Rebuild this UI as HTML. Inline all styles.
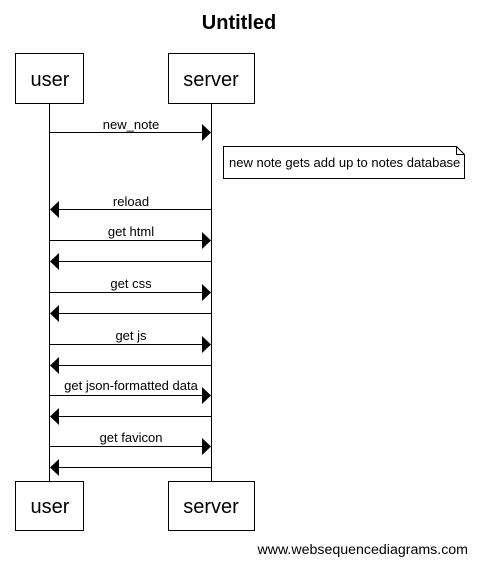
<!DOCTYPE html>
<html><head><style>body{margin:0;background:#fff}</style></head><body>
<svg width="477" height="564" xmlns="http://www.w3.org/2000/svg" font-family="Liberation Sans, sans-serif">
<rect width="477" height="564" fill="#fff"/>
<text x="239" y="29" font-size="20" font-weight="bold" text-anchor="middle">Untitled</text>
<g stroke="#000" fill="#fff" stroke-width="1">
<line x1="49.5" y1="103" x2="49.5" y2="481"/>
<line x1="211.5" y1="103" x2="211.5" y2="481"/>
<rect x="15.5" y="53.5" width="68" height="50"/>
<rect x="168.5" y="53.5" width="86" height="50"/>
<rect x="15.5" y="481.5" width="68" height="49"/>
<rect x="168.5" y="481.5" width="86" height="49"/>
<path d="M223.5 146.5 H456.5 L464.5 154.5 V178.5 H223.5 Z"/>
<path d="M456.5 146.5 V154.5 H464.5" fill="none"/>
</g>
<g font-size="20" text-anchor="middle">
<text x="50" y="86">user</text><text x="211" y="86">server</text>
<text x="50" y="513">user</text><text x="211" y="513">server</text>
</g>
<text x="229" y="167" font-size="13">new note gets add up to notes database</text>
<g stroke="#000" stroke-width="1" font-size="13" text-anchor="middle">
<g>
<line x1="50" y1="132.5" x2="203" y2="132.5"/><path d="M202 124 L211 132.5 L202 141Z" stroke="none"/>
<line x1="50" y1="240.5" x2="203" y2="240.5"/><path d="M202 232 L211 240.5 L202 249Z" stroke="none"/>
<line x1="50" y1="292.5" x2="203" y2="292.5"/><path d="M202 284 L211 292.5 L202 301Z" stroke="none"/>
<line x1="50" y1="344.5" x2="203" y2="344.5"/><path d="M202 336 L211 344.5 L202 353Z" stroke="none"/>
<line x1="50" y1="395.5" x2="203" y2="395.5"/><path d="M202 387 L211 395.5 L202 404Z" stroke="none"/>
<line x1="50" y1="446.5" x2="203" y2="446.5"/><path d="M202 438 L211 446.5 L202 455Z" stroke="none"/>
</g>
<g>
<line x1="58" y1="209.5" x2="211" y2="209.5"/><path d="M59 201 L50 209.5 L59 218Z" stroke="none"/>
<line x1="58" y1="261.5" x2="211" y2="261.5"/><path d="M59 253 L50 261.5 L59 270Z" stroke="none"/>
<line x1="58" y1="313.5" x2="211" y2="313.5"/><path d="M59 305 L50 313.5 L59 322Z" stroke="none"/>
<line x1="58" y1="365.5" x2="211" y2="365.5"/><path d="M59 357 L50 365.5 L59 374Z" stroke="none"/>
<line x1="58" y1="416.5" x2="211" y2="416.5"/><path d="M59 408 L50 416.5 L59 425Z" stroke="none"/>
<line x1="58" y1="467.5" x2="211" y2="467.5"/><path d="M59 459 L50 467.5 L59 476Z" stroke="none"/>
</g>
<g stroke="none">
<text x="131" y="129">new_note</text>
<text x="131" y="206">reload</text>
<text x="131" y="236">get html</text>
<text x="131" y="288">get css</text>
<text x="131" y="340">get js</text>
<text x="131" y="390">get json-formatted data</text>
<text x="131" y="442">get favicon</text>
</g>
</g>
<text x="468" y="554" font-size="14.2" text-anchor="end">www.websequencediagrams.com</text>
</svg>
</body></html>
